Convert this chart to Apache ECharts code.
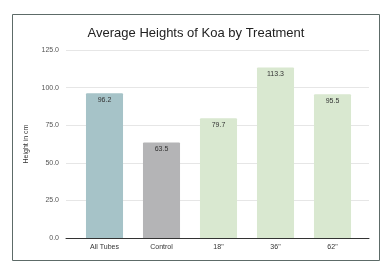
<!DOCTYPE html>
<html>
<head>
<meta charset="utf-8">
<script src="https://cdn.jsdelivr.net/npm/echarts@6/dist/echarts.min.js"></script>
<style>
  html, body { margin: 0; padding: 0; background: #fff; }
  #chart { width: 392px; height: 271px; }
</style>
</head>
<body>
<div id="chart"></div>
<script>
// data
const categories = ['All Tubes', 'Control', '18"', '36"', '62"']
const heights = [96.2, 63.5, 79.7, 113.3, 95.5]
const barColors = ['#a6c3c8', '#b4b4b6', '#d9e8d0', '#d9e8d0', '#d9e8d0']

const chart = echarts.init(document.getElementById('chart'))
const font = 'Liberation Sans, Arial, sans-serif'

chart.setOption({
  animation: false,
  backgroundColor: '#fff',
  title: {
    text: 'Average Heights of Koa by Treatment',
    left: 'center',
    top: 22,
    textStyle: { fontFamily: font, fontSize: 13, fontWeight: 'normal', color: '#222' },
  },
  graphic: [{
    type: 'rect',
    shape: { x: 12.5, y: 14.5, width: 367, height: 246 },
    style: { fill: 'none', stroke: '#5d6b68', lineWidth: 1 },
    silent: true,
  }],
  // grid 0: axis frame, split lines; grid 1: the bars
  grid: [
    { left: 66, right: 23, top: 50, bottom: 33 },
    { left: 76, right: 31, top: 50, bottom: 33 },
  ],
  xAxis: [
    {
      gridIndex: 0, type: 'category', data: categories,
      axisLine: { lineStyle: { color: '#333', width: 1 } },
      axisTick: { show: false }, axisLabel: { show: false },
    },
    {
      gridIndex: 1, type: 'category', data: categories,
      axisLine: { show: false }, axisTick: { show: false },
      axisLabel: { fontFamily: font, fontSize: 7, color: '#333', margin: 6 },
    },
  ],
  yAxis: [
    {
      gridIndex: 0, type: 'value', min: 0, max: 125, interval: 25,
      name: 'Height in cm', nameLocation: 'middle', nameGap: 36,
      nameTextStyle: { fontFamily: font, fontSize: 7, color: '#333' },
      axisLabel: { fontFamily: font, fontSize: 7, color: '#555', margin: 7, formatter: v => v.toFixed(1) },
      splitLine: { lineStyle: { color: '#e6e6e6', width: 1 } },
      axisLine: { show: false }, axisTick: { show: false },
    },
    {
      gridIndex: 1, type: 'value', min: 0, max: 125, interval: 25,
      show: false, splitLine: { show: false },
    },
  ],
  series: [{
    type: 'bar',
    xAxisIndex: 1, yAxisIndex: 1,
    barWidth: '65%',
    data: heights.map((v, i) => ({ value: v, itemStyle: { color: barColors[i], borderRadius: [1, 1, 0, 0] } })),
    label: {
      show: true, position: 'insideTop', distance: 3,
      fontFamily: font, fontSize: 7, color: '#333',
      formatter: p => p.value.toFixed(1),
    },
  }],
})
</script>
</body>
</html>
